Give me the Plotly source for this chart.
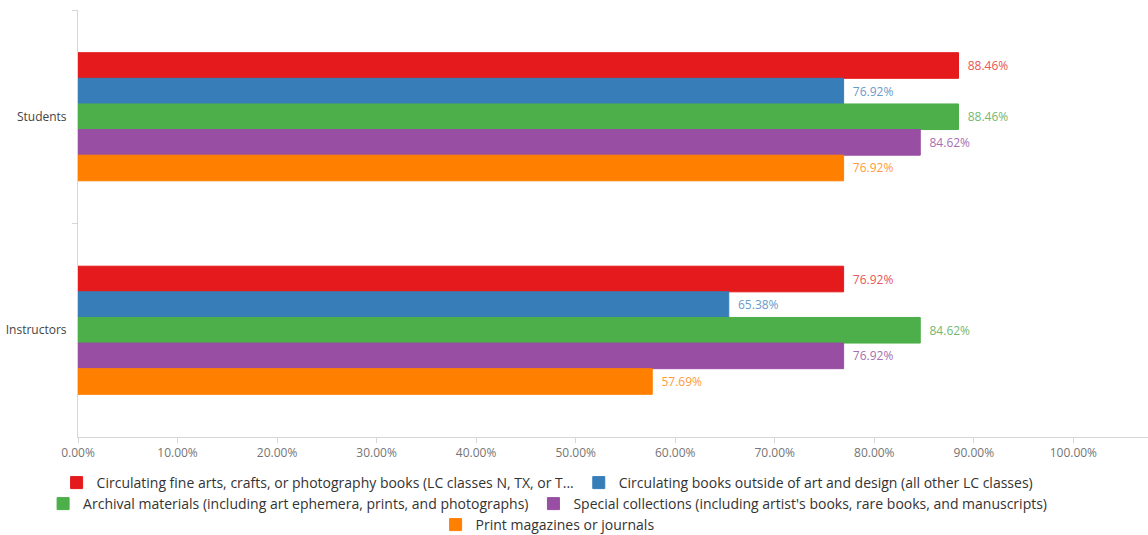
import plotly.graph_objects as go

categories = ["Students", "Instructors"]
series_names = [
    "Circulating fine arts, crafts, or photography books (LC classes N, TX, or T...",
    "Circulating books outside of art and design (all other LC classes)",
    "Archival materials (including art ephemera, prints, and photographs)",
    "Special collections (including artist's books, rare books, and manuscripts)",
    "Print magazines or journals",
]
values = [
    [88.46, 76.92],
    [76.92, 65.38],
    [88.46, 84.62],
    [84.62, 76.92],
    [76.92, 57.69],
]
tick_vals = [0, 10, 20, 30, 40, 50, 60, 70, 80, 90, 100]
tick_text = ["0.00%", "10.00%", "20.00%", "30.00%", "40.00%", "50.00%",
             "60.00%", "70.00%", "80.00%", "90.00%", "100.00%"]

colors = ["#e41a1c", "#377eb8", "#4daf4a", "#984ea3", "#ff7f00"]
label_colors = ["#ea5557", "#6a9acb", "#74b872", "#a56fb2", "#ff9a40"]
legend_ids = ["legend", "legend", "legend2", "legend2", "legend3"]

fig = go.Figure()
for i, name in enumerate(series_names):
    fig.add_trace(go.Bar(
        y=categories, x=values[i], name=name, orientation="h",
        marker=dict(color=colors[i], line=dict(color=colors[i], width=1)),
        text=[f"  {v:.2f}%" for v in values[i]], textposition="outside",
        textfont=dict(color=label_colors[i], size=12),
        cliponaxis=False, legend=legend_ids[i],
        hovertemplate="%{y}: %{x:.2f}%<extra></extra>",
    ))

font_family = "Open Sans, Noto Sans, sans-serif"
leg_common = dict(orientation="h", xref="container", yref="container",
                  xanchor="center", yanchor="middle", x=0.477,
                  font=dict(size=14, color="#333333", family=font_family),
                  bgcolor="rgba(0,0,0,0)", itemwidth=30)

fig.update_layout(
    width=1148, height=535,
    margin=dict(l=78, r=0, t=10, b=98),
    paper_bgcolor="white", plot_bgcolor="white",
    barmode="group", bargap=0.4, bargroupgap=0,
    font=dict(family=font_family, size=12, color="#555555"),
    legend=dict(**leg_common, y=1 - 483 / 535),
    legend2=dict(**leg_common, y=1 - 504 / 535),
    legend3=dict(**leg_common, y=1 - 525 / 535),
    xaxis=dict(range=[0, 107.5], tickvals=tick_vals, ticktext=tick_text,
               showgrid=False, zeroline=False, showline=True,
               linecolor="#d6d6d6", linewidth=1, ticks="outside",
               ticklen=5, tickcolor="#d6d6d6",
               tickfont=dict(size=12, color="#757575")),
    yaxis=dict(categoryorder="array", categoryarray=categories,
               autorange="reversed", showgrid=False, zeroline=False,
               showline=True, linecolor="#d6d6d6", linewidth=1,
               ticks="outside", tickson="boundaries", ticklen=5,
               tickcolor="#d6d6d6", ticklabelstandoff=8,
               tickfont=dict(size=12, color="#444444")),
    showlegend=True,
)

fig.write_html("out.html", config={"displayModeBar": False},
               post_script="document.body.style.margin='0px';document.body.style.overflow='hidden';")
